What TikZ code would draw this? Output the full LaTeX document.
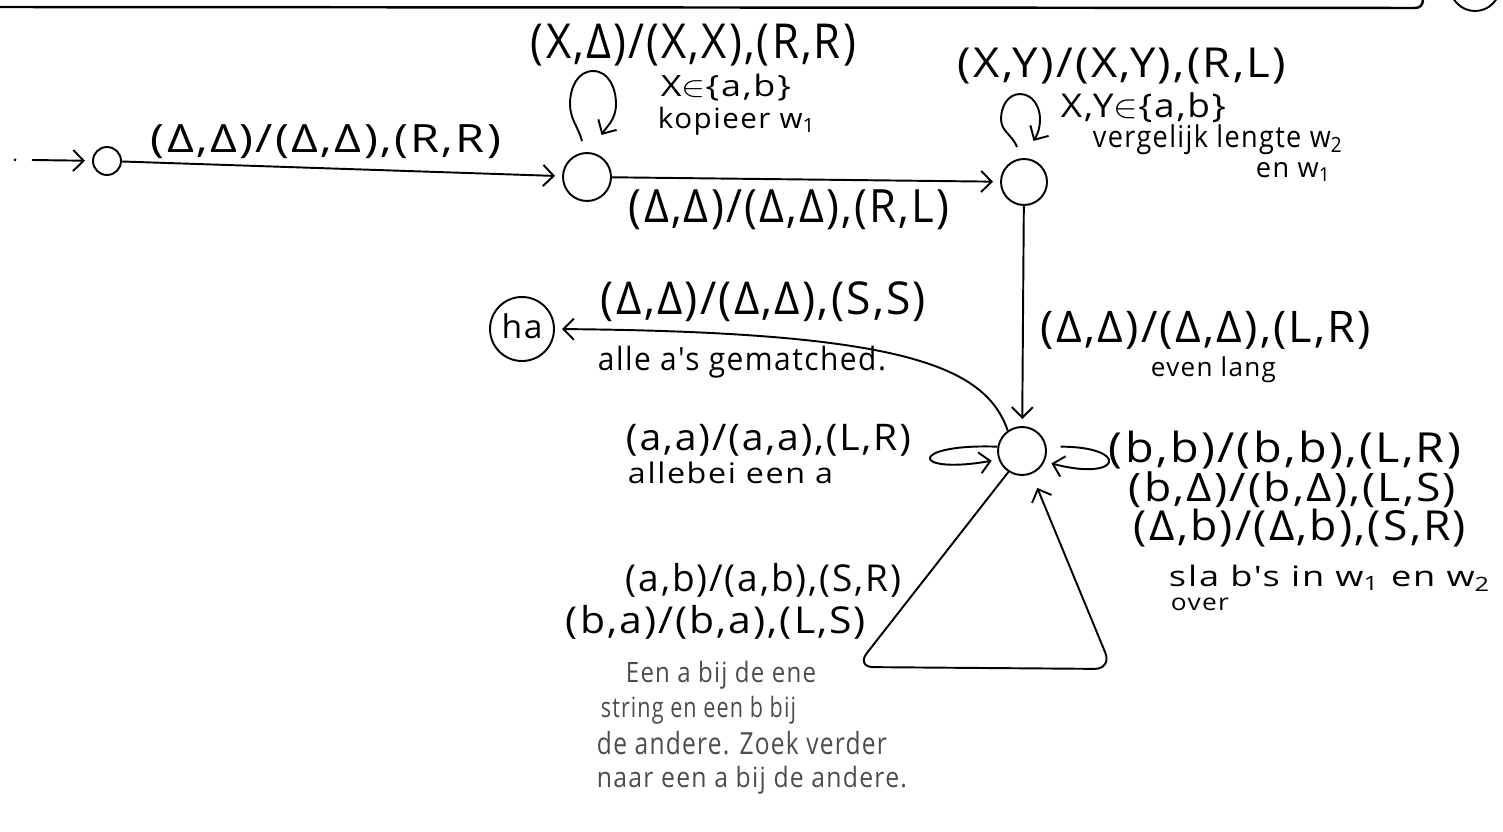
\documentclass[tikz,border=0pt]{standalone}
\usepackage{fontspec}
\setmainfont{Open Sans}
\newfontfamily\hwf[LetterSpace=5]{Open Sans}
\usepackage{graphicx}
\usetikzlibrary{arrows.meta}
\newlength\upx \setlength\upx{0.02cm}
\newcommand\hw[3]{\resizebox*{#1\upx}{#2\upx}{\hwf\vphantom{()}#3}}
\begin{document}
\begin{tikzpicture}[x=0.02cm,y=0.02cm, line width=1.1pt,
  state/.style={draw,circle,inner sep=0pt},
  lbl/.style={anchor=west,inner sep=0pt},
  note/.style={lbl,text=black!70},
  tip/.style={-{Straight Barb[length=6pt,width=12pt]},shorten >=4pt}]
\useasboundingbox (0,0) rectangle (1503,-831);
% page border remnants
\draw[line width=1.4pt] (0,-7) -- (1414,-8) .. controls (1421,-8) and (1423,-5) .. (1423,2);
\draw (1475,14) circle (25);
% states
\node[state,minimum size=0.56cm] (q0) at (107,-161) {};
\node[state,minimum size=0.96cm] (q1) at (587,-177) {};
\node[state,minimum size=0.92cm] (q2) at (1024,-182) {};
\node[state,minimum size=0.96cm] (q3) at (1022,-451) {};
\node[state,minimum size=1.28cm] (ha) at (522,-329) {\hw{41}{30}{ha}};
% start
\fill (15,-160) circle (1.5);
\coordinate (s) at (32,-160);
\draw[tip] (s) -- (q0);
% edges
\draw[tip] (q0) -- (q1);
\draw[tip] ([shift={(-5,11)}]q1.north) to[out=105,in=-90] ++(-12,37) to[out=90,in=180] ++(23,33)
   to[out=0,in=90] ++(23,-33) to[out=-90,in=60] ++(-18,-37);
\draw[tip] (q1) -- (q2);
\draw[tip] ([shift={(-7,11)}]q2.north) to[out=110,in=-90] ++(-16,28) to[out=90,in=180] ++(19,25)
   to[out=0,in=90] ++(20,-25) to[out=-90,in=60] ++(-10,-28);
\draw[tip] (q2) -- (q3);
\draw[tip] (q3.125) .. controls (985,-365) and (900,-332) .. (ha.east);
\draw[tip] (q3.170) .. controls +(178:90) and +(190:90) .. (q3.200);
\draw[tip] ([xshift=8]q3.10) .. controls +(0:70) and +(-15:80) .. (q3.335);
\draw[tip,rounded corners=10pt,shorten >=0.3cm] (q3.237) -- (856,-667) -- (1112,-669) -- (q3);
% labels
\node[lbl] (l1) at (150,-142) {\hw{350}{34}{(Δ,Δ)/(Δ,Δ),(R,R)}};
\node[lbl] (l2) at (530,-45) {\hw{325}{42}{(X,Δ)/(X,X),(R,R)}};
\node[lbl] (l3) at (660,-88) {\hw{130}{27}{X$\in$\{a,b\}}};
\node[lbl] (l4) at (657,-121) {\hw{158}{28}{kopieer w\textsubscript{1}}};
\node[lbl] (l5) at (628,-210) {\hw{320}{40}{(Δ,Δ)/(Δ,Δ),(R,L)}};
\node[lbl] (l6) at (957,-66) {\hw{328}{36}{(X,Y)/(X,Y),(R,L)}};
\node[lbl] (l7) at (1060,-108) {\hw{165}{30}{X,Y$\in$\{a,b\}}};
\node[lbl] (l8) at (1092,-140) {\hw{250}{30}{vergelijk lengte w\textsubscript{2}}};
\node[lbl] (l9) at (1255,-170) {\hw{75}{24}{en w\textsubscript{1}}};
\node[lbl] (l10) at (1040,-330) {\hw{330}{38}{(Δ,Δ)/(Δ,Δ),(L,R)}};
\node[lbl] (l11) at (1150,-370) {\hw{125}{26}{even lang}};
\node[lbl] (l12) at (600,-302) {\hw{325}{40}{(Δ,Δ)/(Δ,Δ),(S,S)}};
\node[lbl] (l13) at (597,-362) {\hw{288}{32}{alle a's gematched.}};
\node[lbl] (l14) at (625,-440) {\hw{285}{32}{(a,a)/(a,a),(L,R)}};
\node[lbl] (l15) at (627,-475) {\hw{205}{26}{allebei een a}};
\node[lbl] (l16) at (1108,-450) {\hw{352}{38}{(b,b)/(b,b),(L,R)}};
\node[lbl] (l17) at (1128,-490) {\hw{327}{36}{(b,Δ)/(b,Δ),(L,S)}};
\node[lbl] (l18) at (1133,-528) {\hw{332}{38}{(Δ,b)/(Δ,b),(S,R)}};
\node[lbl] (l19) at (1168,-578) {\hw{322}{26}{sla b's in w\textsubscript{1} en w\textsubscript{2}}};
\node[lbl] (l20) at (1170,-604) {\hw{58}{20}{over}};
\node[lbl] (l21) at (625,-580) {\hw{275}{34}{(a,b)/(a,b),(S,R)}};
\node[lbl] (l22) at (565,-622) {\hw{300}{34}{(b,a)/(b,a),(L,S)}};
\node[note] (l23) at (625,-675) {\hw{190}{28}{Een a bij de ene}};
\node[note] (l24) at (600,-710) {\hw{195}{28}{string en een b bij}};
\node[note] (l25) at (596,-745) {\hw{290}{28}{de andere. Zoek verder}};
\node[note] (l26) at (596,-780) {\hw{310}{28}{naar een a bij de andere.}};
\end{tikzpicture}
\end{document}
